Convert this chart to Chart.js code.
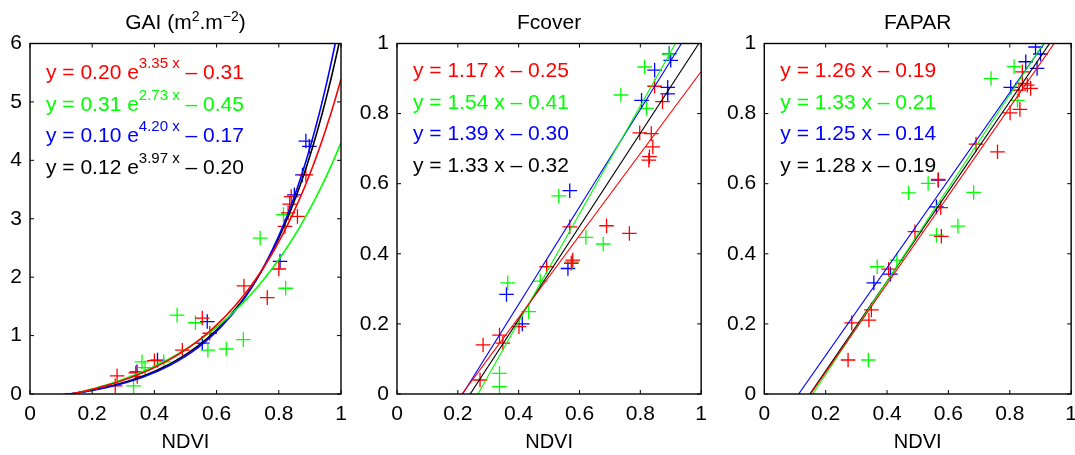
<!DOCTYPE html>
<html>
<head>
<meta charset="utf-8">
<script src="https://cdn.jsdelivr.net/npm/chart.js@4.4.1/dist/chart.umd.min.js"></script>
<style>
  html, body { margin: 0; padding: 0; background: #fff; overflow: hidden; width: 1075px; height: 455px; }
  .panel { position: absolute; top: 0; }
</style>
</head>
<body>
<div class="panel" style="left:0px"><canvas id="gai" width="355" height="455"></canvas></div>
<div class="panel" style="left:355px"><canvas id="fcover" width="360" height="455"></canvas></div>
<div class="panel" style="left:715px"><canvas id="fapar" width="370" height="455"></canvas></div>
<script>
// ---------------------------------------------------------------
// Data
// ---------------------------------------------------------------
const fitColors = ['#ff0000', '#00ff00', '#0000ff', '#000000'];

// GAI
const gaiRedX = [0.274, 0.28, 0.34, 0.345, 0.40, 0.49, 0.554, 0.578, 0.688, 0.763, 0.80, 0.82, 0.83, 0.86, 0.84, 0.835, 0.887];
const gaiRedY = [0.14, 0.31, 0.36, 0.30, 0.57, 0.75, 1.30, 1.04, 1.85, 1.65, 2.14, 2.87, 3.10, 3.04, 3.38, 3.25, 3.75];
const gaiGreenX = [0.333, 0.36, 0.37, 0.43, 0.473, 0.532, 0.572, 0.631, 0.686, 0.74, 0.822, 0.815];
const gaiGreenY = [0.14, 0.55, 0.45, 0.55, 1.35, 1.22, 0.75, 0.77, 0.93, 2.67, 1.81, 3.07];
const gaiBlueX = [0.344, 0.41, 0.57, 0.554, 0.804, 0.85, 0.876, 0.887, 0.898];
const gaiBlueY = [0.38, 0.58, 1.24, 0.87, 2.27, 3.41, 3.75, 4.33, 4.24];
// y = a e^(b x) + c  (red, green, blue, black)
const gaiFitA = [0.20, 0.31, 0.10, 0.12];
const gaiFitB = [3.35, 2.73, 4.20, 3.97];
const gaiFitC = [-0.31, -0.45, -0.17, -0.20];

// Fcover
const fcRedX = [0.273, 0.283, 0.337, 0.348, 0.401, 0.492, 0.568, 0.578, 0.573, 0.689, 0.764, 0.798, 0.836, 0.841, 0.830, 0.828, 0.847, 0.873];
const fcRedY = [0.04, 0.14, 0.168, 0.145, 0.192, 0.363, 0.477, 0.382, 0.373, 0.48, 0.458, 0.745, 0.743, 0.705, 0.677, 0.667, 0.878, 0.834];
const fcGreenX = [0.337, 0.337, 0.364, 0.433, 0.471, 0.532, 0.575, 0.621, 0.678, 0.736, 0.814, 0.820, 0.895];
const fcGreenY = [0.021, 0.059, 0.317, 0.235, 0.322, 0.565, 0.377, 0.447, 0.428, 0.853, 0.933, 0.815, 0.97];
const fcBlueX = [0.360, 0.412, 0.568, 0.562, 0.804, 0.847, 0.89, 0.89, 0.895, 0.90];
const fcBlueY = [0.284, 0.20, 0.58, 0.358, 0.838, 0.924, 0.875, 0.856, 0.971, 0.952];
// y = m x + q
const fcFitM = [1.17, 1.54, 1.39, 1.33];
const fcFitQ = [-0.25, -0.41, -0.30, -0.32];

// FAPAR
const faRedX = [0.273, 0.285, 0.341, 0.349, 0.405, 0.491, 0.567, 0.575, 0.577, 0.690, 0.760, 0.801, 0.833, 0.830, 0.841, 0.857, 0.868, 0.841];
const faRedY = [0.097, 0.203, 0.211, 0.24, 0.356, 0.463, 0.612, 0.532, 0.45, 0.713, 0.691, 0.802, 0.812, 0.867, 0.886, 0.881, 0.872, 0.919];
const faGreenX = [0.339, 0.368, 0.432, 0.470, 0.534, 0.561, 0.631, 0.682, 0.739, 0.814, 0.825];
const faGreenY = [0.097, 0.363, 0.382, 0.574, 0.601, 0.453, 0.479, 0.575, 0.90, 0.934, 0.838];
const faBlueX = [0.357, 0.411, 0.567, 0.561, 0.803, 0.852, 0.889, 0.884, 0.90];
const faBlueY = [0.317, 0.342, 0.61, 0.534, 0.875, 0.948, 0.929, 0.99, 0.97];
const faFitM = [1.26, 1.33, 1.25, 1.28];
const faFitQ = [-0.19, -0.21, -0.14, -0.19];

const FONT = '"Liberation Sans", Arial, Helvetica, sans-serif';

// ---------------------------------------------------------------
// Helpers
// ---------------------------------------------------------------
function pts(xs, ys) {
  return xs.map(function (v, i) { return { x: v, y: ys[i] }; });
}

function signed(v) {
  return (v < 0 ? ' \u2013 ' : ' + ') + Math.abs(v).toFixed(2);
}

function tickLabel(v) {
  return String(parseFloat(v.toFixed(2)));
}

function drawParts(ctx, parts, x, base, size, supSize, rise) {
  parts.forEach(function (p) {
    ctx.font = (p.sup ? supSize : size) + 'px ' + FONT;
    ctx.fillText(p.t, x, p.sup ? base - rise : base);
    x += ctx.measureText(p.t).width;
  });
  return x;
}

function partsWidth(ctx, parts, size, supSize) {
  let w = 0;
  parts.forEach(function (p) {
    ctx.font = (p.sup ? supSize : size) + 'px ' + FONT;
    w += ctx.measureText(p.t).width;
  });
  return w;
}

// Box, inward ticks on all sides, panel title and fit equations.
const framePlugin = {
  id: 'frame',
  afterDatasetsDraw(chart, args, opts) {
    const ctx = chart.ctx;
    const a = chart.chartArea;
    const xs = chart.scales.x;
    const ys = chart.scales.y;
    ctx.save();
    ctx.strokeStyle = '#000';
    ctx.lineWidth = 1.4;
    ctx.strokeRect(a.left, a.top, a.right - a.left, a.bottom - a.top);
    ctx.lineWidth = 1;
    ctx.beginPath();
    xs.ticks.forEach(function (t) {
      const px = xs.getPixelForValue(t.value);
      ctx.moveTo(px, a.bottom); ctx.lineTo(px, a.bottom - 4);
      ctx.moveTo(px, a.top); ctx.lineTo(px, a.top + 4);
    });
    ys.ticks.forEach(function (t) {
      const py = ys.getPixelForValue(t.value);
      ctx.moveTo(a.left, py); ctx.lineTo(a.left + 4, py);
      ctx.moveTo(a.right, py); ctx.lineTo(a.right - 4, py);
    });
    ctx.stroke();

    ctx.textBaseline = 'alphabetic';
    ctx.textAlign = 'left';
    ctx.fillStyle = '#000';
    const tw = partsWidth(ctx, opts.title, 21, 14);
    drawParts(ctx, opts.title, (a.left + a.right) / 2 - tw / 2, 28.5, 21, 14, 8);

    opts.eqs.forEach(function (eq, i) {
      ctx.fillStyle = fitColors[i];
      drawParts(ctx, eq, a.left + opts.eqX, opts.eqBase[i], 21, 15, 11);
    });
    ctx.restore();
  }
};

function makePanel(id, cfg) {
  const datasets = [];
  cfg.fits.forEach(function (f, i) {
    datasets.push({
      data: f, showLine: true, pointRadius: 0, borderColor: fitColors[i],
      borderWidth: cfg.lineWidth, fill: false, tension: 0
    });
  });
  cfg.points.forEach(function (p, i) {
    datasets.push({
      data: p, pointStyle: 'cross', pointRadius: 7.3, pointHoverRadius: 7.3,
      borderColor: fitColors[i], backgroundColor: fitColors[i], borderWidth: 1.3
    });
  });
  new Chart(document.getElementById(id), {
    type: 'scatter',
    data: { datasets: datasets },
    plugins: [framePlugin],
    options: {
      responsive: false,
      animation: false,
      devicePixelRatio: 1,
      layout: { padding: { top: 43.5, left: 0, right: cfg.padRight, bottom: 0 } },
      plugins: {
        legend: { display: false },
        tooltip: { enabled: false },
        frame: { title: cfg.title, eqs: cfg.eqs, eqX: 16, eqBase: cfg.eqBase }
      },
      scales: {
        x: {
          type: 'linear', min: 0, max: 1,
          ticks: { stepSize: 0.2, color: '#000', font: { family: FONT, size: 21 }, padding: 8, maxRotation: 0, autoSkip: false, callback: tickLabel },
          grid: { display: false, drawTicks: false },
          border: { display: false },
          title: { display: true, text: 'NDVI', color: '#000', font: { family: FONT, size: 20 }, padding: { top: 0, bottom: 1 } },
          afterFit: function (s) { s.height = 61; }
        },
        y: {
          type: 'linear', min: 0, max: cfg.yMax,
          ticks: { stepSize: cfg.yStep, color: '#000', font: { family: FONT, size: 21 }, padding: 8, callback: tickLabel },
          grid: { display: false, drawTicks: false },
          border: { display: false },
          afterFit: function (s) { s.width = cfg.areaLeft; }
        }
      }
    }
  });
}

function expFit(a, b, c) {
  const out = [];
  for (let i = 0; i <= 100; i++) {
    const x = i / 100;
    out.push({ x: x, y: a * Math.exp(b * x) + c });
  }
  return out;
}

function linFit(m, q) {
  return [{ x: 0, y: q }, { x: 1, y: m + q }];
}

function linEq(m, q) {
  return [{ t: 'y = ' + m.toFixed(2) + ' x' + signed(q) }];
}

// ---------------------------------------------------------------
// Panels
// ---------------------------------------------------------------
makePanel('gai', {
  areaLeft: 30, padRight: 14, yMax: 6, yStep: 1, lineWidth: 1.6,
  title: [{ t: 'GAI (m' }, { t: '2', sup: true }, { t: '.m' }, { t: '\u22122', sup: true }, { t: ')' }],
  eqBase: [79, 110.7, 142.3, 174],
  eqs: gaiFitA.map(function (a, i) {
    return [{ t: 'y = ' + a.toFixed(2) + ' e' }, { t: gaiFitB[i].toFixed(2) + ' x', sup: true }, { t: signed(gaiFitC[i]) }];
  }),
  fits: gaiFitA.map(function (a, i) { return expFit(a, gaiFitB[i], gaiFitC[i]); }),
  points: [pts(gaiRedX, gaiRedY), pts(gaiGreenX, gaiGreenY), pts(gaiBlueX, gaiBlueY)]
});

makePanel('fcover', {
  areaLeft: 42, padRight: 7.3, yMax: 1, yStep: 0.2, lineWidth: 1.1,
  title: [{ t: 'Fcover' }],
  eqBase: [77, 108.7, 140.3, 172],
  eqs: fcFitM.map(function (m, i) { return linEq(m, fcFitQ[i]); }),
  fits: fcFitM.map(function (m, i) { return linFit(m, fcFitQ[i]); }),
  points: [pts(fcRedX, fcRedY), pts(fcGreenX, fcGreenY), pts(fcBlueX, fcBlueY)]
});

makePanel('fapar', {
  areaLeft: 49.3, padRight: 11, yMax: 1, yStep: 0.2, lineWidth: 1.1,
  title: [{ t: 'FAPAR' }],
  eqBase: [77, 108.7, 140.3, 172],
  eqs: faFitM.map(function (m, i) { return linEq(m, faFitQ[i]); }),
  fits: faFitM.map(function (m, i) { return linFit(m, faFitQ[i]); }),
  points: [pts(faRedX, faRedY), pts(faGreenX, faGreenY), pts(faBlueX, faBlueY)]
});
</script>
</body>
</html>
